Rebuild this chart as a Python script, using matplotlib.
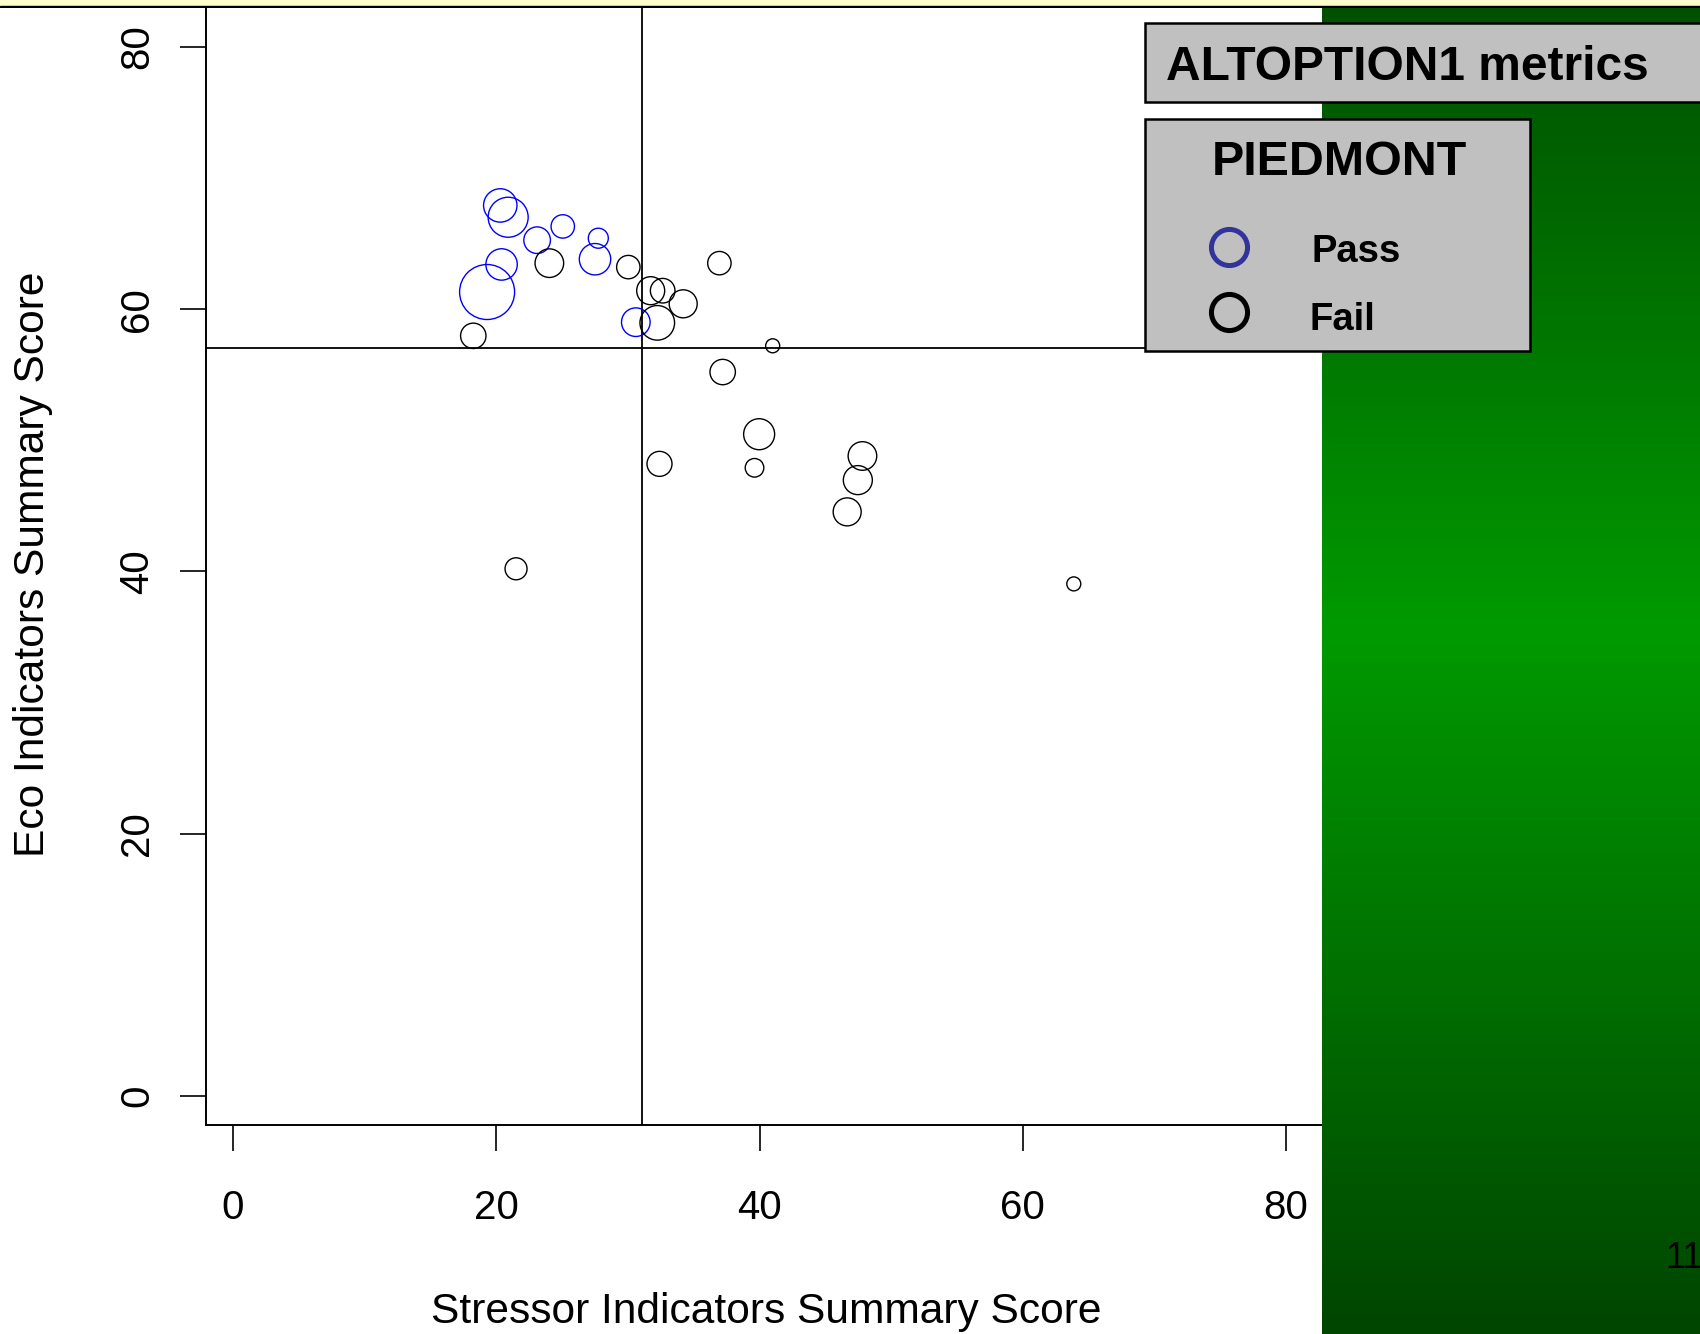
import numpy as np
import matplotlib
matplotlib.use("Agg")
import matplotlib.pyplot as plt
from matplotlib.patches import Rectangle
from matplotlib.colors import LinearSegmentedColormap
from matplotlib.lines import Line2D

plt.rcParams['font.family'] = ['Liberation Sans', 'DejaVu Sans']

# ---- data ----
pass_x = [20.3, 20.9, 19.3, 20.4, 23.1, 25.05, 27.75, 27.5, 30.6]
pass_y = [67.9, 67.0, 61.3, 63.4, 65.25, 66.3, 65.4, 63.8, 59.0]
pass_size = [16.7, 20.0, 27.5, 15.7, 13.3, 11.7, 10.0, 15.7, 14.3]

fail_x = [18.25, 24.03, 30.03, 31.73, 32.64, 32.23, 34.2, 36.95, 41.0, 37.2,
          39.97, 39.62, 32.4, 47.82, 47.47, 46.66, 21.5, 63.88]
fail_y = [57.96, 63.5, 63.2, 61.4, 61.4, 58.95, 60.4, 63.5, 57.2, 55.2,
          50.46, 47.9, 48.2, 48.8, 46.96, 44.54, 40.2, 39.05]
fail_size = [12.7, 14.3, 11.7, 14.0, 12.3, 17.3, 14.0, 11.7, 7.0, 12.7,
             15.5, 9.3, 12.5, 14.3, 14.5, 14.0, 11.0, 7.0]

stressor_threshold = 31.06
eco_threshold = 57.0

x_ticks = [0, 20, 40, 60, 80]
y_ticks = [0, 20, 40, 60, 80]

title_text = "ALTOPTION1 metrics"
region_text = "PIEDMONT"
legend_labels = ["Pass", "Fail"]
page_number = "11"

# ---- figure ----
W, H = 1700, 1334
fig = plt.figure(figsize=(W / 100, H / 100), dpi=100)
fig.patch.set_facecolor("white")

def fx(px):
    return px / W

def fy(py):
    return 1 - py / H

# main axes
ax_left, ax_right = 206, 1364.9
ax_bottom, ax_top = 1125, -32
ax = fig.add_axes([fx(ax_left), fy(ax_bottom), fx(ax_right - ax_left), (ax_bottom - ax_top) / H])
ax.set_xlim(-2.06, 86)
ax.set_ylim(-2.2, 86)
ax.set_facecolor("white")
for s in ["top", "right"]:
    ax.spines[s].set_visible(False)
for s in ["left", "bottom"]:
    ax.spines[s].set_linewidth(1.4)
    ax.spines[s].set_color("black")

px2pt = 72 / 100
ax.scatter(pass_x, pass_y, s=[(2 * r * px2pt) ** 2 for r in pass_size],
           facecolors="none", edgecolors="#0000ff", linewidths=1.0, zorder=3)
ax.scatter(fail_x, fail_y, s=[(2 * r * px2pt) ** 2 for r in fail_size],
           facecolors="none", edgecolors="black", linewidths=1.0, zorder=3)

ax.axvline(stressor_threshold, color="black", lw=1.3, zorder=2)
ax.axhline(eco_threshold, color="black", lw=1.3, zorder=2)

ax.set_xticks(x_ticks)
ax.set_yticks(y_ticks)
ax.set_xticklabels([str(t) for t in x_ticks])
ax.set_yticklabels([str(t) for t in y_ticks])
ax.tick_params(axis="x", direction="out", length=19, width=1.2, pad=27, labelsize=29)
ax.tick_params(axis="y", direction="out", length=19, width=1.2, pad=17, labelsize=29)
for lab in ax.get_yticklabels():
    lab.set_rotation(90)
    lab.set_va("center")

fig.text(fx(766), fy(1323), "Stressor Indicators Summary Score", ha="center", va="baseline", fontsize=30.6)
fig.text(fx(33), fy(564), "Eco Indicators Summary Score", ha="center", va="center", rotation=90, fontsize=30.6)

# green gradient panel
gax = fig.add_axes([fx(1322), 0, fx(W - 1322), 1 - 8 / H], zorder=5)
cmap = LinearSegmentedColormap.from_list("g", [(0, "#005000"), (0.47, "#009a00"), (1.0, "#004500")])
grad = np.linspace(0, 1, 512).reshape(-1, 1)
gax.imshow(grad, aspect="auto", cmap=cmap, extent=[0, 1, 1, 0])
gax.axis("off")

# top yellow strip with black line
tax = fig.add_axes([0, 1 - 8 / H, 1, 8 / H], zorder=6)
tax.set_xlim(0, 1)
tax.set_ylim(8, 0)
tax.add_patch(Rectangle((0, 0), 1, 5.5, color="#ffffcc"))
tax.add_patch(Rectangle((0, 5.5), 1, 2.5, color="black"))
tax.axis("off")

# overlay axes in pixel coordinates for boxes
oax = fig.add_axes([0, 0, 1, 1], zorder=10)
oax.set_xlim(0, W)
oax.set_ylim(H, 0)
oax.axis("off")
oax.patch.set_alpha(0)

oax.add_patch(Rectangle((1145.5, 22.7), 600, 79, facecolor="#c0c0c0", edgecolor="black", lw=1.8))
oax.text(1166, 80, title_text, fontsize=34.5, fontweight="bold", ha="left", va="baseline")

oax.add_patch(Rectangle((1145.5, 119), 384.5, 231.5, facecolor="#c0c0c0", edgecolor="black", lw=1.8))
oax.text(1212, 175, region_text, fontsize=34.8, fontweight="bold", ha="left", va="baseline")
oax.add_line(Line2D([1229.3], [246.7], marker="o", markersize=26, markerfacecolor="none",
                    markeredgecolor="#333399", markeredgewidth=3.6, linestyle="none"))
oax.add_line(Line2D([1229.3], [311.7], marker="o", markersize=26, markerfacecolor="none",
                    markeredgecolor="black", markeredgewidth=3.6, linestyle="none"))
oax.text(1312, 261.7, legend_labels[0], fontsize=27.5, fontweight="bold", ha="left", va="baseline")
oax.text(1310, 330, legend_labels[1], fontsize=27.5, fontweight="bold", ha="left", va="baseline")

oax.text(1665, 1268, page_number, fontsize=26, ha="left", va="baseline", color="black")

fig.savefig("out.png", dpi=100)
